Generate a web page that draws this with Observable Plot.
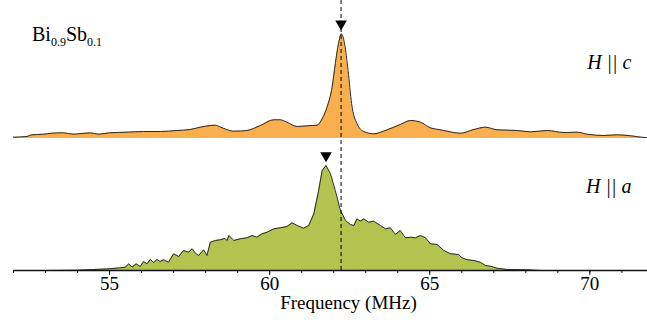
<!DOCTYPE html>
<html>
<head>
<meta charset="utf-8">
<script src="https://cdn.jsdelivr.net/npm/d3@7"></script>
<script src="https://cdn.jsdelivr.net/npm/@observablehq/plot@0.6"></script>
<style>
  html, body { margin: 0; padding: 0; background: #fff; }
  #chart { width: 647px; height: 329px; }
</style>
</head>
<body>
<div id="chart"></div>
<script>
// H || c spectrum (top, orange)
const freqC = [52.0, 52.42, 52.57, 52.94, 53.2, 53.56, 53.88, 54.4, 54.66, 55.0, 55.54, 56.06, 56.58, 57.1, 57.52, 57.83, 58.15, 58.3, 58.46, 58.65, 58.88, 59.29, 59.71, 60.13, 60.33, 60.54, 60.86, 61.17, 61.48, 61.64, 61.79, 61.95, 62.05, 62.15, 62.24, 62.34, 62.45, 62.56, 62.73, 62.94, 63.25, 63.67, 64.08, 64.4, 64.71, 65.02, 65.18, 65.44, 65.96, 66.38, 66.74, 67.1, 67.73, 68.15, 68.67, 69.19, 69.6, 69.92, 70.44, 70.86, 71.27, 71.74, 71.8];
const intC  = [1.3, 2, 3.7, 4.3, 5.3, 5.7, 4.3, 5.7, 4.3, 5.7, 6.3, 7, 7, 8, 9, 11.3, 13, 13.3, 11.5, 9, 7.3, 8, 13, 18.7, 18.7, 16.3, 12, 12.7, 13.3, 19.7, 31.3, 51.3, 74.7, 94.7, 104.7, 94.7, 68, 34.7, 14.7, 7, 4.7, 8.7, 14, 18, 16.3, 10.7, 9.5, 8, 5.3, 9, 11.3, 8.7, 8, 6.7, 8, 6, 6.3, 4.3, 3, 3.7, 2.7, 1, 1];

// H || a spectrum (bottom, green)
const freqA = [52.0, 53.0, 54.0, 54.5, 55.0, 55.33, 55.49, 55.6, 55.7, 55.83, 55.96, 56.06, 56.17, 56.27, 56.38, 56.48, 56.58, 56.69, 56.84, 57.0, 57.16, 57.31, 57.47, 57.58, 57.68, 57.78, 57.94, 58.04, 58.15, 58.3, 58.46, 58.6, 58.67, 58.73, 58.88, 59.08, 59.29, 59.45, 59.6, 59.76, 59.92, 60.13, 60.33, 60.54, 60.7, 60.86, 61.06, 61.22, 61.38, 61.53, 61.64, 61.76, 61.9, 62.05, 62.21, 62.37, 62.52, 62.63, 62.73, 62.83, 62.94, 63.09, 63.25, 63.46, 63.62, 63.77, 63.93, 64.08, 64.24, 64.4, 64.55, 64.71, 64.87, 65.02, 65.23, 65.44, 65.65, 65.9, 66.01, 66.17, 66.38, 66.58, 66.74, 66.9, 67.1, 67.42, 68.04, 68.46, 71.8];
const intA  = [0, 0, 0.3, 1, 1.7, 2.7, 3.3, 6.7, 3.3, 6.7, 4, 9, 6.7, 11, 8, 11, 9, 10.7, 8.3, 16.7, 14, 20, 18.3, 21.7, 17.3, 15, 20.7, 15, 28.3, 30, 30.7, 32, 30, 35, 30, 31.7, 32.7, 35, 33.3, 36.7, 38.3, 41.7, 42.7, 44, 47.7, 45, 42.3, 45, 56.7, 80, 100, 105, 96.7, 80, 60, 50, 46, 45, 51.7, 49.3, 51.7, 48.3, 49.3, 45, 41.7, 42.7, 36, 40, 32.7, 33.3, 32.7, 35, 32.7, 26.7, 26, 20, 16.7, 16, 12.7, 10.7, 10, 8.3, 5, 4.3, 2.3, 1, 0.7, 0, 0];

// Peak markers (MHz)
const peakFreqs = [62.23, 61.76];
const peakLabels = ["H || c", "H || a"];
const ticksMajor = [55, 60, 65, 70];
const ticksMinor = d3.range(52, 72, 1);

const SERIF = "Liberation Serif";
const OFFSET = 132; // vertical offset of the H || c trace

const dataC = freqC.map((f, i) => ({f, v: intC[i]}));
const dataA = freqA.map((f, i) => ({f, v: intA[i]}));
const peakC = d3.max(intC), peakA = d3.max(intA);
const markers = [
  {f: peakFreqs[0], y: OFFSET + peakC},
  {f: peakFreqs[1], y: peakA}
];

const plot = Plot.plot({
  width: 647,
  height: 329,
  marginTop: 0,
  marginBottom: 59,
  marginLeft: 13,
  marginRight: 0,
  style: {background: "#fff", color: "#000", fontFamily: SERIF},
  x: {domain: [52, 71.8]},
  y: {domain: [0, 270], axis: null},
  marks: [
    Plot.areaY(dataC, {x: "f", y1: () => OFFSET, y2: d => OFFSET + d.v, fill: "#F9AF4E", curve: "monotone-x"}),
    Plot.lineY(dataC, {x: "f", y: d => OFFSET + d.v, stroke: "#2a2a2a", strokeWidth: 1, curve: "monotone-x"}),
    Plot.areaY(dataA, {x: "f", y1: 0, y2: "v", fill: "#B2C350"}),
    Plot.lineY(dataA, {x: "f", y: "v", stroke: "#2a2a2a", strokeWidth: 1}),
    Plot.ruleX([peakFreqs[0]], {stroke: "#000", strokeWidth: 1, strokeDasharray: "4,3"}),
    Plot.ruleY([0], {stroke: "#111", strokeWidth: 1.3}),
    Plot.axisX({ticks: ticksMinor, tickSize: 3, text: null, label: null, stroke: "#111"}),
    Plot.axisX({ticks: ticksMajor, tickSize: 5, tickPadding: 1, tickFormat: d => String(d), label: null, stroke: "#111", fill: "#000", fontSize: 19, fontFamily: SERIF}),
    Plot.dot(markers, {x: "f", y: "y", dy: -10, symbol: "triangle", rotate: 180, r: 4.3, fill: "#000", stroke: "none"}),
    Plot.text(["Frequency (MHz)"], {frameAnchor: "bottom", dx: 18, dy: 38, fontSize: 19, fill: "#000", fontFamily: SERIF}),
    Plot.text([{t: peakLabels[0], f: 71.3, y: 207.5}, {t: peakLabels[1], f: 71.3, y: 83.5}], {x: "f", y: "y", text: "t", textAnchor: "end", fontStyle: "italic", fontSize: 20, fill: "#000", fontFamily: SERIF})
  ]
});

document.getElementById("chart").appendChild(plot);

// Compound label with subscripts
const svg = d3.select(plot);
const lab = svg.append("text")
  .attr("x", 32).attr("y", 41)
  .attr("text-anchor", "start")
  .attr("font-family", SERIF)
  .attr("font-size", 20).attr("fill", "#000");
lab.append("tspan").text("Bi");
lab.append("tspan").attr("font-size", 12).attr("dy", 4.5).text("0.9");
lab.append("tspan").attr("dy", -4.5).text("Sb");
lab.append("tspan").attr("font-size", 12).attr("dy", 4.5).text("0.1");

svg.selectAll("text, tspan").style("font-family", SERIF);
</script>
</body>
</html>
